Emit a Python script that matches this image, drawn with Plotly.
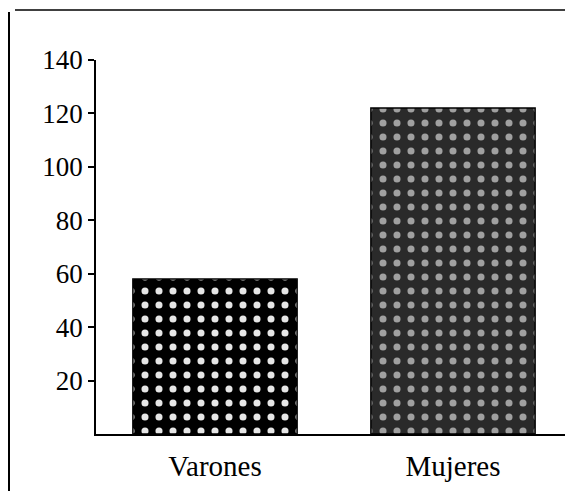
import plotly.graph_objects as go

categories = ["Varones", "Mujeres"]
values = [58, 122]
tick_values = [20, 40, 60, 80, 100, 120, 140]
tick_labels = ["20", "40", "60", "80", "100", "120", "140"]

bg_colors = ["#000000", "#2a2a2a"]
fg_colors = ["#e6e6e6", "#a0a0a0"]

# the page body adds an 8px offset; size the figure so the plot area lands
# where the reference places it (plot area x 96..572, y 60..434 on screen)
OFF = 8
W, H = 573 - OFF, 491 - OFF
L, T = 96 - OFF, 60 - OFF
PW, PH = 476, 374

fig = go.Figure()
for cat, val, bg, fg in zip(categories, values, bg_colors, fg_colors):
    fig.add_trace(go.Bar(
        x=[cat],
        y=[val],
        width=0.69,
        name=cat,
        marker=dict(
            color=bg,
            line=dict(color="#000000", width=1.5),
            pattern=dict(shape=".", fgcolor=fg, fgopacity=1,
                         size=14, solidity=0.2, fillmode="overlay"),
        ),
    ))

font_family = "Liberation Serif, Times New Roman, serif"

fig.update_layout(
    width=W, height=H,
    margin=dict(l=L, r=W - L - PW, t=T, b=H - T - PH, autoexpand=False),
    paper_bgcolor="white",
    plot_bgcolor="white",
    showlegend=False,
    barmode="overlay",
    font=dict(family=font_family, color="#000000"),
    xaxis=dict(
        range=[-0.5, 1.5], automargin=False,
        categoryorder="array", categoryarray=categories,
        showline=True, linecolor="#000000", linewidth=1.5,
        ticks="", showgrid=False, zeroline=False,
        tickfont=dict(family=font_family, size=29, color="#000000"),
        ticklabelstandoff=5,
    ),
    yaxis=dict(
        range=[0, 140], automargin=False,
        showline=True, linecolor="#000000", linewidth=1.5,
        ticks="outside", ticklen=6, tickwidth=1.5, tickcolor="#000000",
        tickvals=tick_values, ticktext=tick_labels,
        showgrid=False, zeroline=False,
        tickfont=dict(family=font_family, size=27, color="#000000"),
    ),
    shapes=[
        dict(type="line", xref="paper", yref="paper",
             x0=(15 - 96) / PW, x1=1.0, y0=(434 - 10) / PH, y1=(434 - 10) / PH,
             line=dict(color="#000000", width=1.5)),
        dict(type="line", xref="paper", yref="paper",
             x0=(9 - 96) / PW, x1=(9 - 96) / PW, y0=(434 - 12) / PH, y1=(434 - 491) / PH,
             line=dict(color="#000000", width=2)),
    ],
)

fig.write_html("out.html")
